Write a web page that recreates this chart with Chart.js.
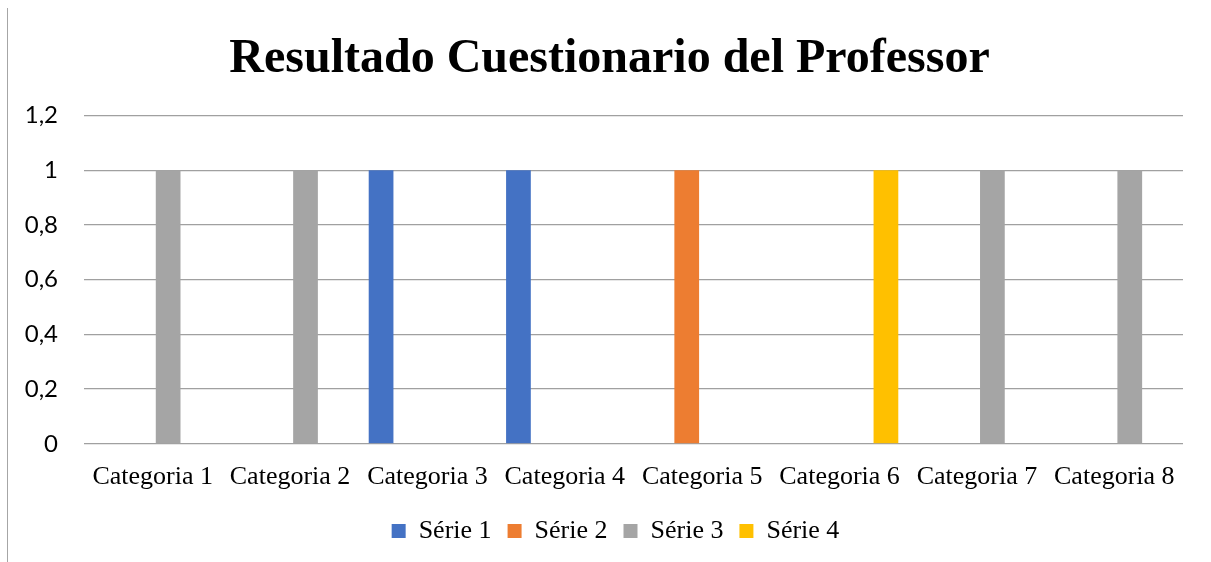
<!DOCTYPE html>
<html>
<head>
<meta charset="utf-8">
<script src="https://cdn.jsdelivr.net/npm/chart.js@4"></script>
<style>
  html, body { margin: 0; padding: 0; background: #fff; }
  #wrap { position: relative; width: 1211px; height: 562px; }
  #edge { position: absolute; left: 7px; top: 8px; bottom: 0; border-left: 1px solid #a6a6a6; }
</style>
</head>
<body>
<div id="wrap">
  <div id="edge"></div>
  <canvas id="chart"></canvas>
</div>
<script>
const CATEGORIES = ["Categoria 1", "Categoria 2", "Categoria 3", "Categoria 4",
                    "Categoria 5", "Categoria 6", "Categoria 7", "Categoria 8"];
const SERIE_1 = [0, 0, 1, 1, 0, 0, 0, 0];
const SERIE_2 = [0, 0, 0, 0, 1, 0, 0, 0];
const SERIE_3 = [1, 1, 0, 0, 0, 0, 1, 1];
const SERIE_4 = [0, 0, 0, 0, 0, 1, 0, 0];
const SERIES_NAMES = ["Série 1", "Série 2", "Série 3", "Série 4"];
const COLORS = ["#4472C4", "#ED7D31", "#A5A5A5", "#FFC000"];

const serif = "'Liberation Serif', 'Times New Roman', serif";

// Excel centres title and legend on the whole frame, not the padded box
const centreShift = {
    id: "centreShift",
    afterLayout(chart) {
        chart.legend.left += 19;
        chart.legend.right += 19;
        chart.titleBlock.left += 13;
        chart.titleBlock.right += 13;
    }
};

const ctx = document.getElementById("chart").getContext("2d");

const chart = new Chart(ctx, {
    type: "bar",
    data: {
        labels: CATEGORIES,
        datasets: [SERIE_1, SERIE_2, SERIE_3, SERIE_4].map((vals, i) => ({
            label: SERIES_NAMES[i],
            data: vals,
            backgroundColor: COLORS[i],
            borderWidth: 0,
            categoryPercentage: 0.9,
            barPercentage: 0.8
        }))
    },
    options: {
        responsive: true,
        maintainAspectRatio: false,
        animation: false,
        layout: { padding: { left: 10, right: 28, top: 0, bottom: 8 } },
        plugins: {
            title: {
                display: true,
                text: "Resultado Cuestionario del Professor",
                color: "#000",
                font: { family: serif, size: 48, weight: "bold" },
                padding: { top: 31, bottom: 27 }
            },
            legend: {
                position: "bottom",
                labels: {
                    color: "#000",
                    font: { family: serif, size: 26 },
                    boxWidth: 14,
                    boxHeight: 14,
                    padding: 16
                }
            },
            tooltip: { enabled: false }
        },
        scales: {
            x: {
                grid: { display: false },
                border: { display: false },
                ticks: {
                    color: "#000",
                    font: { family: serif, size: 26 },
                    maxRotation: 0,
                    autoSkip: false,
                    padding: 9.5
                }
            },
            y: {
                min: 0,
                max: 1.2,
                border: { display: false },
                grid: { color: "#a0a0a0", lineWidth: 1.2, drawTicks: false },
                afterFit: (scale) => { scale.width = 74; },
                ticks: {
                    stepSize: 0.2,
                    color: "#000",
                    font: { family: "Lato, sans-serif", size: 24 },
                    padding: 26,
                    callback: (v) => String(Number(v.toFixed(1))).replace(".", ",")
                }
            }
        }
    },
    plugins: [centreShift]
});
</script>
</body>
</html>
